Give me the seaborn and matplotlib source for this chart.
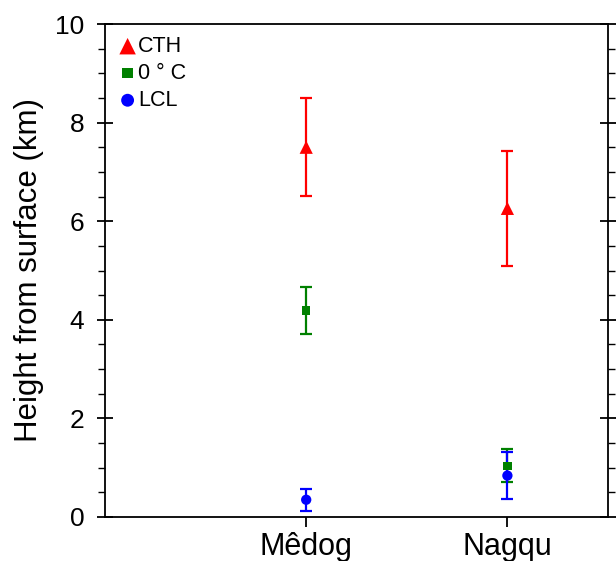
import matplotlib
matplotlib.use("Agg")
import matplotlib.pyplot as plt
from matplotlib.ticker import MultipleLocator
import seaborn as sns
import pandas as pd

sites = ["Mêdog", "Nagqu"]
variables = ["CTH", "0 ° C", "LCL"]
cth_mean = [7.50, 6.26]
cth_err = [0.99, 1.16]
frz_mean = [4.19, 1.04]
frz_err = [0.47, 0.34]
lcl_mean = [0.35, 0.84]
lcl_err = [0.22, 0.47]

colors = {"CTH": "#ff0000", "0 ° C": "#008000", "LCL": "#0000ff"}
markers = {"CTH": "^", "0 ° C": "s", "LCL": "o"}
msizes = {"CTH": 90, "0 ° C": 36, "LCL": 55}

rows = []
for v, m, e in zip(variables, [cth_mean, frz_mean, lcl_mean], [cth_err, frz_err, lcl_err]):
    for s, mv, ev in zip(sites, m, e):
        rows.append({"site": s, "var": v, "value": mv, "err": ev})
df = pd.DataFrame(rows)
df["site"] = pd.Categorical(df["site"], categories=sites)

sns.set_style("ticks")
plt.rcParams["font.family"] = ["Liberation Sans", "DejaVu Sans"]
plt.rcParams["text.color"] = "black"
plt.rcParams["axes.labelcolor"] = "black"
plt.rcParams["xtick.color"] = "black"
plt.rcParams["ytick.color"] = "black"

fig = plt.figure(figsize=(6.16, 5.61), dpi=100)
ax = fig.add_axes([105 / 616, 44 / 561, 503 / 616, 493 / 561])

for v in variables:
    sub = df[df["var"] == v]
    xpos = sub["site"].cat.codes.values
    ax.errorbar(xpos, sub["value"], yerr=sub["err"], fmt="none",
                ecolor=colors[v], elinewidth=1.6, capsize=4, capthick=1.6, zorder=2)
    sns.scatterplot(data=sub, x="site", y="value", marker=markers[v], color=colors[v],
                    s=msizes[v], edgecolor="none", label=v, ax=ax, zorder=3)

ax.set_xlim(-1.0, 1.5)
ax.set_ylim(0, 10)
ax.set_xticks(range(len(sites)))
ax.set_xticklabels(sites)
ax.set_xlabel("")
ax.set_ylabel("Height from surface (km)", fontsize=22.5, labelpad=8)

ax.yaxis.set_major_locator(MultipleLocator(2))
ax.yaxis.set_minor_locator(MultipleLocator(0.5))
ax.tick_params(axis="y", which="major", direction="inout", length=12, width=1.3,
               right=True, labelsize=19, pad=9)
ax.tick_params(axis="y", which="minor", direction="out", length=5, width=1.0, right=True)
ax.tick_params(axis="x", which="major", direction="out", length=7, width=1.3,
               labelsize=22, top=False, pad=4)
ax.tick_params(axis="x", which="minor", bottom=False, top=False)
for sp in ax.spines.values():
    sp.set_visible(True)
    sp.set_linewidth(1.3)
    sp.set_color("black")

leg = ax.legend(loc="upper left", frameon=False, fontsize=15.5, handletextpad=0.0,
                labelspacing=0.28, handlelength=1.0, borderaxespad=0.4, borderpad=0.15,
                markerscale=1.25)
for t in leg.get_texts():
    t.set_color("black")

fig.savefig("out.png", dpi=100)
